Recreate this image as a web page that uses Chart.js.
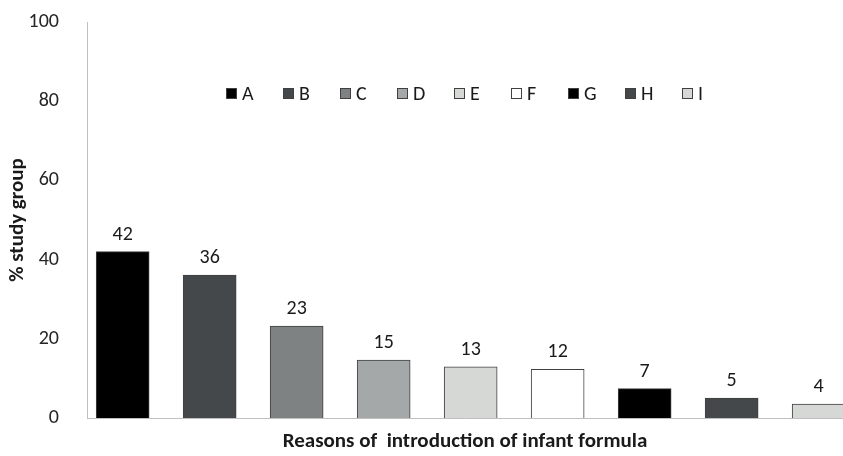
<!DOCTYPE html>
<html lang="en">
<head>
    <meta charset="UTF-8">
    <title>Reasons of introduction of infant formula</title>
    <script src="https://cdn.jsdelivr.net/npm/chart.js"></script>
    <style>
        body { margin: 0; padding: 0; background: #fff; font-family: Carlito, Lato, 'Open Sans', sans-serif; overflow: hidden; }
        .wrap { position: relative; width: 843px; height: 456px; }
        .legend { position: absolute; left: 226px; top: 81px; display: flex; color: #1a1a1a; font-size: 20px; line-height: 24px; }
        .legend .item { width: 57px; display: flex; align-items: center; }
        .legend .box { width: 11px; height: 11px; border: 1px solid #404040; margin-right: 5px; box-sizing: border-box; }
    </style>
</head>
<body>
    <div class="wrap">
        <canvas id="grafico"></canvas>
        <div class="legend" id="leyenda"></div>
    </div>
    <script>
        // datos
        const categorias = ['A', 'B', 'C', 'D', 'E', 'F', 'G', 'H', 'I'];
        const valores = [42, 36.1, 23.2, 14.6, 12.9, 12.3, 7.4, 5.0, 3.5];
        const colores = ['#000000', '#45484a', '#7f8282', '#a5a8a8', '#d6d8d6', '#ffffff', '#000000', '#45484a', '#d6d8d6'];
        const ticksY = [0, 20, 40, 60, 80, 100];

        // leyenda en html
        const leyenda = document.getElementById('leyenda');
        categorias.forEach((c, i) => {
            const it = document.createElement('div');
            it.className = 'item';
            it.innerHTML = '<span class="box" style="background:' + colores[i] + '"></span><span>' + c + '</span>';
            leyenda.appendChild(it);
        });

        // etiquetas encima de las barras
        const etiquetas = {
            id: 'etiquetas',
            afterDatasetsDraw(chart) {
                const ctx = chart.ctx;
                ctx.save();
                ctx.font = '20px Carlito, Lato, sans-serif';
                ctx.fillStyle = '#1a1a1a';
                ctx.textAlign = 'center';
                ctx.textBaseline = 'alphabetic';
                chart.getDatasetMeta(0).data.forEach((bar, i) => {
                    ctx.fillText(Math.round(valores[i]), bar.x, bar.y - 12);
                });
                ctx.restore();
            }
        };

        const ctx = document.getElementById('grafico').getContext('2d');
        new Chart(ctx, {
            type: 'bar',
            data: {
                labels: categorias,
                datasets: [{
                    data: valores.map((v, i) => ({ x: i, y: v })),
                    backgroundColor: colores,
                    borderColor: '#404040',
                    borderWidth: 1,
                    barThickness: 53
                }]
            },
            options: {
                responsive: true,
                maintainAspectRatio: false,
                animation: false,
                layout: { padding: { top: 22, right: 0, left: 0, bottom: 0 } },
                plugins: {
                    legend: { display: false },
                    tooltip: { enabled: false }
                },
                scales: {
                    x: {
                        type: 'linear',
                        offset: false,
                        min: -0.41,
                        max: 8.28,
                        grid: { display: false },
                        border: { display: true, color: '#bfbfbf' },
                        ticks: { display: false },
                        title: {
                            display: true,
                            text: 'Reasons of  introduction of infant formula',
                            color: '#1a1a1a',
                            font: { family: 'Carlito, Lato, sans-serif', size: 21, weight: 'bold' },
                            padding: { top: 0, bottom: 2 }
                        },
                        afterFit(scale) { scale.height = 38; scale.paddingLeft = 0; scale.paddingRight = 0; }
                    },
                    y: {
                        min: 0,
                        max: 100,
                        grid: { display: false },
                        border: { display: true, color: '#bfbfbf' },
                        afterBuildTicks(scale) { scale.ticks = ticksY.map(v => ({ value: v })); },
                        ticks: {
                            padding: 20,
                            color: '#262626',
                            font: { family: 'Carlito, Lato, sans-serif', size: 20 }
                        },
                        title: {
                            display: true,
                            text: '% study group',
                            color: '#1a1a1a',
                            font: { family: 'Carlito, Lato, sans-serif', size: 21, weight: 'bold' },
                            padding: { top: 5, bottom: 0 }
                        },
                        afterFit(scale) { scale.width = 87; scale.paddingTop = 0; scale.paddingBottom = 0; }
                    }
                }
            },
            plugins: [etiquetas]
        });
    </script>
</body>
</html>
